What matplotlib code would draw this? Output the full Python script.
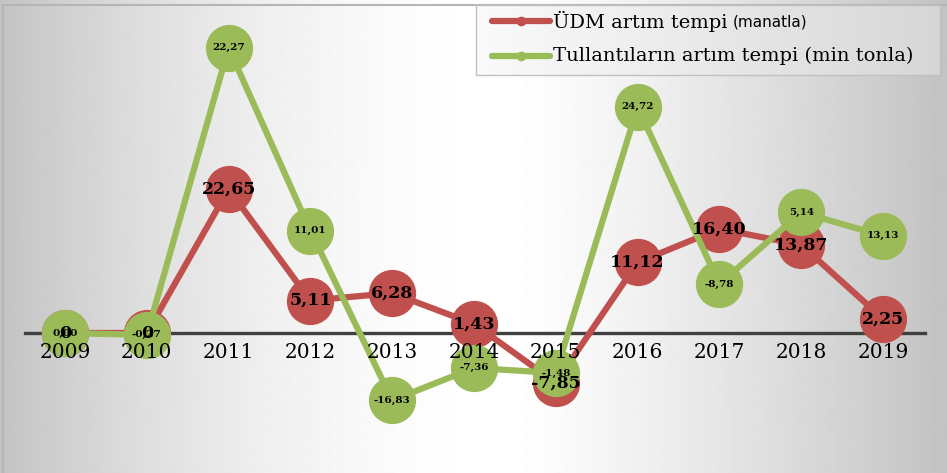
import numpy as np
import matplotlib
matplotlib.use("Agg")
import matplotlib.pyplot as plt

# === Data ===
years = ["2009", "2010", "2011", "2012", "2013", "2014", "2015", "2016", "2017", "2018", "2019"]
udm = [0, 0, 22.65, 5.11, 6.28, 1.43, -7.85, 11.12, 16.40, 13.87, 2.25]
udm_labels = ["0", "0", "22,65", "5,11", "6,28", "1,43", "-7,85", "11,12", "16,40", "13,87", "2,25"]
# green points as they sit in the picture (same scale as the red line)
tullanti = [0, -0.3, 44.9, 16.1, -10.6, -5.5, -6.3, 35.6, 7.7, 19.0, 15.3]
tullanti_labels = ["0,00", "-0,27", "22,27", "11,01", "-16,83", "-7,36", "-1,48",
                   "24,72", "-8,78", "5,14", "13,13"]

RED = "#C0504D"
GREEN = "#9BBB59"
W, H = 947, 473

fig = plt.figure(figsize=(W / 100, H / 100), dpi=100)

# === Background gradient ===
bg = fig.add_axes([0, 0, 1, 1])
bg.set_xlim(0, W)
bg.set_ylim(H, 0)
bg.axis("off")
xx, yy = np.meshgrid(np.arange(W), np.arange(H))
d = np.where(xx < 510, ((510 - xx) / 510.0) ** 1.8, ((xx - 510) / 430.0).clip(0, 1) ** 1.2)
shade = (255 - 60 * d) / 255.0
bg.imshow(shade, cmap="gray", vmin=0, vmax=1, extent=(0, W, H, 0), aspect="auto",
          interpolation="bilinear", zorder=0)
bg.plot([3, 3, W], [H, 5, 5], color="#b5b5b5", lw=1.5, zorder=1)

# legend box
lx0, lx1, ly0, ly1 = 476, 940, 5, 75
lg = np.tile(np.linspace(0.98, 0.84, 200), (10, 1))
bg.imshow(lg, cmap="gray", vmin=0, vmax=1, extent=(lx0, lx1, ly1, ly0), aspect="auto",
          interpolation="bilinear", zorder=2)
bg.plot([lx0, lx0, lx1, lx1, lx0], [ly0, ly1, ly1, ly0, ly0], color="#c0c0c0", lw=1, zorder=3)
for yl, col in [(21, RED), (56, GREEN)]:
    bg.plot([492, 550], [yl, yl], color=col, lw=4.5, solid_capstyle="round", zorder=4)
    bg.plot([521], [yl], "o", color=col, ms=6, zorder=4)
t1 = bg.text(553, 21, "ÜDM artım tempi", family="DejaVu Serif", fontsize=14,
             va="center", ha="left", zorder=5)
bg.annotate("(manatla)", xy=(1, 0.45), xycoords=t1, xytext=(4, 0), textcoords="offset points",
            family="DejaVu Sans", fontsize=11, va="center", ha="left", zorder=5)
bg.text(553, 56, "Tullantıların artım tempi (min tonla)", family="DejaVu Serif", fontsize=14,
        va="center", ha="left", zorder=5)

# === Main chart ===
ax = fig.add_axes([0, 0, 1, 1])
ax.patch.set_alpha(0)
ax.axis("off")
x = np.arange(len(years))
step = 81.8
ax.set_xlim(-65 / step, (W - 65) / step)
ax.set_ylim(-(H - 333) / 6.35, 333 / 6.35)

ax.axhline(0, xmin=25 / W, xmax=925 / W, color="#404040", lw=2.4, zorder=1)

ax.plot(x, udm, color=RED, lw=4.5, marker="o", ms=33, mec=RED, zorder=2)
ax.plot(x, tullanti, color=GREEN, lw=4.5, marker="o", ms=33, mec=GREEN, zorder=3)

for i, yr in enumerate(years):
    ax.text(i, -3.0, yr, family="DejaVu Serif", fontsize=14.5, ha="center", va="center", zorder=4)

for i in range(len(years)):
    ax.text(i, tullanti[i], tullanti_labels[i], family="DejaVu Serif", fontweight="bold",
            fontsize=7.5, ha="center", va="center", zorder=5)
    ax.text(i, udm[i], udm_labels[i], family="DejaVu Serif", fontweight="bold",
            fontsize=12.5, ha="center", va="center", zorder=6)

fig.savefig("out.png", dpi=100)
